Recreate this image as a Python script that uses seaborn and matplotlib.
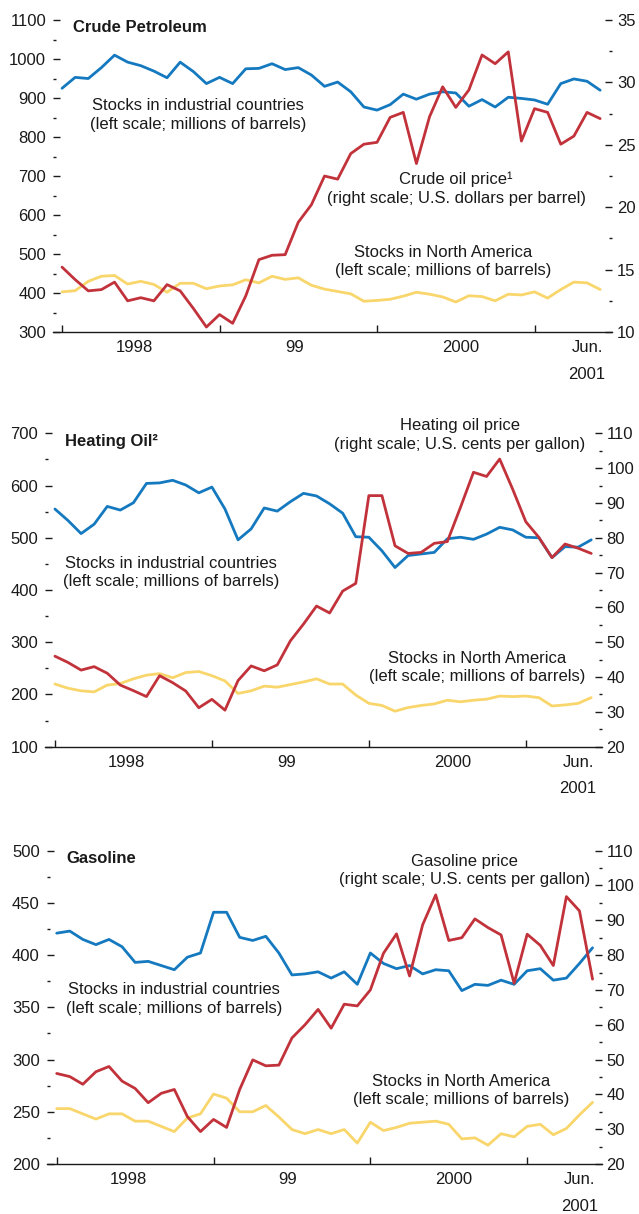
"""
plot.py
-------
Oil stocks vs. prices, three stacked panels (crude, heating oil, gasoline).
"""

import numpy as np
import pandas as pd
import matplotlib
matplotlib.use("Agg")
import matplotlib.pyplot as plt
import seaborn as sns
from matplotlib.ticker import MultipleLocator, FixedLocator, FixedFormatter

# monthly, Jan 1998 .. Jun 2001
crude_industrial = [925, 953, 950, 978, 1010, 992, 983, 969, 952, 992, 968, 937,
                    953, 937, 975, 976, 988, 973, 978, 959, 930, 941, 916, 877,
                    869, 883, 910, 897, 910, 916, 913, 879, 896, 877, 902, 899,
                    895, 884, 937, 949, 943, 920]
crude_north_america = [403, 406, 430, 443, 445, 423, 430, 422, 402, 425, 425, 411,
                       418, 421, 434, 426, 443, 435, 439, 420, 410, 404, 398, 379,
                       381, 384, 392, 402, 397, 390, 377, 393, 391, 380, 397, 395,
                       403, 387, 409, 428, 426, 409]
crude_price = [15.2, 14.2, 13.3, 13.4, 14.0, 12.5, 12.75, 12.5, 13.8, 13.3, 11.9, 10.4,
               11.4, 10.7, 12.9, 15.8, 16.15, 16.2, 18.8, 20.2, 22.5, 22.25, 24.3, 25.05,
               25.2, 27.2, 27.6, 23.5, 27.25, 29.65, 28.0, 29.4, 32.2, 31.5, 32.45, 25.3,
               27.9, 27.6, 25.05, 25.7, 27.6, 27.1]

heating_industrial = [555, 533, 508, 526, 560, 553, 567, 604, 605, 610, 601, 586,
                      597, 555, 496, 517, 557, 551, 569, 585, 580, 565, 547, 502,
                      501, 475, 443, 466, 469, 472, 498, 501, 497, 507, 520, 515,
                      501, 500, 462, 483, 482, 496]
heating_north_america = [220, 212, 207, 205, 218, 221, 230, 237, 240, 232, 242, 244,
                         236, 226, 202, 207, 216, 214, 219, 224, 230, 220, 220, 199,
                         183, 179, 168, 175, 179, 182, 189, 186, 189, 191, 197, 196,
                         197, 194, 178, 180, 183, 194]
heating_price = [46.0, 44.2, 42.0, 43.0, 41.1, 37.7, 36.1, 34.4, 40.4, 38.4, 36.0, 31.2,
                 33.6, 30.5, 39.0, 43.2, 41.8, 43.5, 50.4, 55.2, 60.4, 58.4, 64.7, 66.9,
                 92.1, 92.1, 77.7, 75.5, 75.8, 78.4, 78.9, 88.7, 98.8, 97.6, 102.6, 93.9,
                 84.6, 80.1, 74.3, 78.2, 77.0, 75.5]

gasoline_industrial = [421, 423, 415, 410, 415, 408, 393, 394, 390, 386, 398, 402,
                       441, 441, 417, 414, 418, 402, 381, 382, 384, 378, 384, 372,
                       402, 392, 387, 390, 382, 386, 385, 366, 372, 371, 376, 372,
                       385, 387, 376, 378, 392, 407]
gasoline_north_america = [253, 253, 248, 243, 248, 248, 241, 241, 236, 231, 244, 248,
                          267, 263, 250, 250, 256, 245, 233, 229, 233, 229, 233, 220,
                          240, 232, 235, 239, 240, 241, 238, 224, 225, 218, 229, 226,
                          236, 238, 228, 234, 247, 259]
gasoline_price = [46.0, 45.1, 42.9, 46.5, 48.0, 43.8, 41.7, 37.6, 40.3, 41.4, 33.6, 29.3,
                  32.8, 30.5, 41.4, 49.9, 48.2, 48.4, 56.2, 60.0, 64.4, 59.0, 65.9, 65.4,
                  70.0, 80.5, 86.1, 74.0, 88.7, 97.3, 84.2, 85.0, 90.4, 87.9, 85.8, 71.9,
                  86.0, 82.8, 77.0, 96.8, 92.7, 73.1]

year_ticks = [0, 12, 24, 36]
year_label_pos = [5.5, 17.7, 30.4, 40.0]
year_labels = ["1998", "99", "2000", "Jun.\n2001"]

BLUE = "#1479bf"
RED = "#c2323b"
YELLOW = "#f9d66b"
FONT = ["Liberation Sans", "DejaVu Sans"]

sns.set_style("ticks")
plt.rcParams.update({
    "font.family": FONT,
    "font.size": 12,
    "xtick.labelsize": 12,
    "ytick.labelsize": 12,
    "text.color": "#1a1a1a",
    "xtick.color": "#1a1a1a",
    "ytick.color": "#1a1a1a",
})


def draw_panel(ax, industrial, north_america, price, left_lim, left_step,
               right_lim, right_step, xlim, title, ind_pos, price_text, price_pos, na_pos):
    months = np.arange(len(industrial))
    df = pd.DataFrame({"month": months, "industrial": industrial,
                       "north_america": north_america, "price": price})

    sns.lineplot(data=df, x="month", y="north_america", ax=ax, color=YELLOW, lw=2)
    sns.lineplot(data=df, x="month", y="industrial", ax=ax, color=BLUE, lw=2)
    ax2 = ax.twinx()
    sns.lineplot(data=df, x="month", y="price", ax=ax2, color=RED, lw=2)

    ax.set_xlim(*xlim)
    ax.set_ylim(*left_lim)
    ax2.set_ylim(*right_lim)
    for a in (ax, ax2):
        a.set_xlabel("")
        a.set_ylabel("")
        for s in a.spines.values():
            s.set_visible(False)
    ax.spines["bottom"].set_visible(True)
    ax.spines["bottom"].set_linewidth(1.0)
    ax.spines["bottom"].set_color("#1a1a1a")

    ax.yaxis.set_major_locator(MultipleLocator(left_step))
    ax.yaxis.set_minor_locator(MultipleLocator(left_step / 2))
    ax2.yaxis.set_major_locator(MultipleLocator(right_step))
    ax2.yaxis.set_minor_locator(MultipleLocator(right_step / 2))
    ax.tick_params(axis="y", which="major", direction="in", length=5, width=1, pad=5)
    ax.tick_params(axis="y", which="minor", direction="in", length=2.5, width=1)
    ax2.tick_params(axis="y", which="major", direction="in", length=5, width=1, pad=3.5)
    ax2.tick_params(axis="y", which="minor", direction="in", length=2.5, width=1)

    ax.xaxis.set_major_locator(FixedLocator(year_ticks))
    ax.xaxis.set_major_formatter(FixedFormatter([""] * len(year_ticks)))
    ax.xaxis.set_minor_locator(FixedLocator(year_label_pos))
    ax.xaxis.set_minor_formatter(FixedFormatter(year_labels))
    ax.tick_params(axis="x", which="major", direction="in", length=5, width=1)
    ax.tick_params(axis="x", which="minor", length=0, pad=6)
    for lbl in ax.get_xticklabels(minor=True):
        lbl.set_linespacing(1.95)
        lbl.set_verticalalignment("top")

    ax.text(0.036, 0.975, title, transform=ax.transAxes, fontsize=12,
            fontweight="bold", ha="left", va="center")
    ax.text(ind_pos[0], ind_pos[1],
            "Stocks in industrial countries\n(left scale; millions of barrels)",
            transform=ax.transAxes, ha="center", va="center", linespacing=1.3)
    ax.text(price_pos[0], price_pos[1], price_text,
            transform=ax.transAxes, ha="center", va="center", linespacing=1.3)
    ax.text(na_pos[0], na_pos[1],
            "Stocks in North America\n(left scale; millions of barrels)",
            transform=ax.transAxes, ha="center", va="center", linespacing=1.3)
    ax2.set_zorder(ax.get_zorder() + 1)
    ax.patch.set_visible(False)
    return ax2


fig = plt.figure(figsize=(6.39, 12.14), dpi=100)

ax1 = fig.add_axes([0.0829, 0.7265, 0.8748, 0.2570])
draw_panel(ax1, crude_industrial, crude_north_america, crude_price,
           (300, 1100), 100, (10, 35), 5, (-0.69, 41.9), "Crude Petroleum",
           (0.259, 0.696),
           "Crude oil price\u00b9\n(right scale; U.S. dollars per barrel)", (0.721, 0.460),
           (0.698, 0.226))

ax2 = fig.add_axes([0.0704, 0.3849, 0.8712, 0.2582])
draw_panel(ax2, heating_industrial, heating_north_america, heating_price,
           (100, 700), 100, (20, 110), 10, (-0.76, 41.8), "Heating Oil\u00b2",
           (0.227, 0.556),
           "Heating oil price\n(right scale; U.S. cents per gallon)", (0.745, 0.995),
           (0.777, 0.253))

ax3 = fig.add_axes([0.0730, 0.0412, 0.8686, 0.2581])
draw_panel(ax3, gasoline_industrial, gasoline_north_america, gasoline_price,
           (200, 500), 50, (20, 110), 10, (-0.77, 41.7), "Gasoline",
           (0.229, 0.527),
           "Gasoline price\n(right scale; U.S. cents per gallon)", (0.753, 0.937),
           (0.746, 0.235))

fig.savefig("out.png", dpi=100)
plt.close(fig)
